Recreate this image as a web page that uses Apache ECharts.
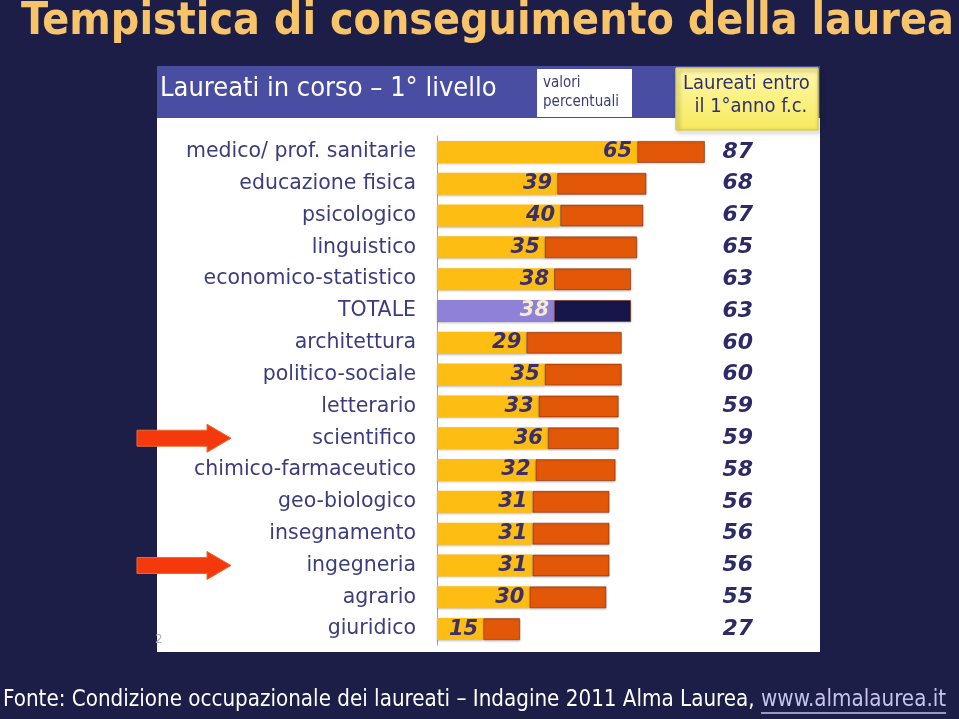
<!DOCTYPE html>
<html><head><meta charset="utf-8">
<script src="https://cdn.jsdelivr.net/npm/echarts@6/dist/echarts.min.js"></script>
<style>html,body{margin:0;padding:0;background:#1c1e47;}#c{width:959px;height:719px;}</style>
</head><body><div id="c"></div>
<script>
const categories = ['medico/ prof. sanitarie','educazione fisica','psicologico','linguistico','economico-statistico','TOTALE','architettura','politico-sociale','letterario','scientifico','chimico-farmaceutico','geo-biologico','insegnamento','ingegneria','agrario','giuridico'];
const inCorso = [65,39,40,35,38,38,29,35,33,36,32,31,31,31,30,15];
const entro1 = [87,68,67,65,63,63,60,60,59,59,58,56,56,56,55,27];
const arrowRows = ['scientifico','ingegneria'];
const totalRow = 'TOTALE';

const chart = echarts.init(document.getElementById('c'), null, {renderer:'canvas'});
const lblFont = 'DejaVu Sans';
const titleText = 'Tempistica di conseguimento della laurea';
const footerText = 'Fonte: Condizione occupazionale dei laureati \u2013 Indagine 2011 Alma Laurea, ';
const urlText = 'www.almalaurea.it';
const cv = document.createElement('canvas').getContext('2d');
const titleFam = '"DejaVu Sans Condensed", "DejaVu Sans"';
cv.font = 'bold 40px ' + titleFam;
const titleSize = Math.min(46, 40 * 933 / cv.measureText(titleText).width);
const footFont = '22.2px "DejaVu Sans Condensed", "DejaVu Sans"';
cv.font = footFont;
const footW = cv.measureText(footerText).width;
const urlW = cv.measureText(urlText).width;

const yellowItems = inCorso.map((v,i)=>({value:v, itemStyle:{color: categories[i]===totalRow ? '#8f80d8' : '#fdbd12'},
  label:{color: categories[i]===totalRow ? '#f6ead0' : '#3a2f6a'}}));
const orangeItems = entro1.map((v,i)=>({value:v-inCorso[i], itemStyle:{color: categories[i]===totalRow ? '#17164a' : '#e35808'}}));

chart.setOption({
  backgroundColor:'#1c1e47',
  animation:false,
  graphic:[
    {type:'text', left:21, top:0, style:{text:titleText, fill:'#f7c46a', font:'bold '+titleSize.toFixed(1)+'px '+titleFam}},
    {type:'rect', z:-10, shape:{x:157,y:66,width:663,height:586}, style:{fill:'#ffffff'}},
    {type:'rect', z:-9, shape:{x:157,y:66,width:663,height:52}, style:{fill:'#4a4ea2'}},
    {type:'text', z:-8, left:160, top:75, style:{text:'Laureati in corso \u2013 1\u00b0 livello', fill:'#ffffff', font:'27px "DejaVu Sans Condensed", "DejaVu Sans"'}},
    {type:'rect', z:-8, shape:{x:537,y:69,width:95,height:48}, style:{fill:'#ffffff'}},
    {type:'text', z:-7, left:543, top:74, style:{text:'valori\npercentuali', fill:'#3b3b78', font:'15px "DejaVu Sans Condensed", "DejaVu Sans"', lineHeight:19}},
    {type:'rect', z:-6, shape:{x:676,y:68,width:142,height:62}, style:{fill:new echarts.graphic.LinearGradient(0,0,0,1,[{offset:0,color:'#fff8a8'},{offset:1,color:'#f6ea5e'}]), stroke:'#d8cc60', lineWidth:1, shadowBlur:4, shadowColor:'rgba(0,0,0,0.4)', shadowOffsetX:2, shadowOffsetY:2}},
    {type:'text', z:-5, left:683, top:72, style:{text:'Laureati entro\n  il 1\u00b0anno f.c.', fill:'#2f2f6e', font:'20px "DejaVu Sans Condensed", "DejaVu Sans"', lineHeight:23}},
    {type:'text', left:155, top:634, style:{text:'2', fill:'#b0b0c0', font:'12px "DejaVu Sans"'}},
    {type:'text', left:3, top:689, style:{text:footerText, fill:'#ffffff', font:footFont}},
    {type:'text', left:3+footW, top:689, style:{text:urlText, fill:'#c6c3ee', font:footFont}},
    {type:'line', shape:{x1:3+footW, y1:713, x2:3+footW+urlW, y2:713}, style:{stroke:'#c6c3ee', lineWidth:1.5}}
  ],
  grid:{left:437, right:214, top:136, bottom:74, containLabel:false},
  xAxis:{type:'value', min:0, max:100, show:false},
  yAxis:[
    {type:'category', data:categories, inverse:true, axisTick:{show:false},
      axisLine:{show:true, lineStyle:{color:'#a0a0a8', width:1}},
      axisLabel:{color:'#3d3c7c', fontSize:20.5, fontFamily:lblFont, margin:21}},
    {type:'category', data:entro1.map(String), inverse:true, position:'right', axisTick:{show:false}, axisLine:{show:false},
      axisLabel:{color:'#2e2a68', fontSize:22, fontWeight:'bold', fontStyle:'italic', fontFamily:lblFont, align:'right', margin:8}}
  ],
  series:[
    {type:'bar', stack:'a', barWidth:22, data:yellowItems,
      itemStyle:{shadowColor:'rgba(0,0,0,0.25)', shadowBlur:2, shadowOffsetY:1},
      label:{show:true, position:'insideRight', fontSize:21, fontWeight:'bold', fontStyle:'italic', fontFamily:lblFont}},
    {type:'bar', stack:'a', barWidth:22, data:orangeItems,
      itemStyle:{borderColor:'rgba(120,30,0,0.5)', borderWidth:1, shadowColor:'rgba(0,0,0,0.25)', shadowBlur:2, shadowOffsetY:1}}
  ]
});

const arrows = arrowRows.map(name=>{
  const y = chart.convertToPixel({yAxisIndex:0}, name);
  return {type:'polygon', shape:{points:[[137,y-8],[207,y-8],[207,y-14],[231,y],[207,y+14],[207,y+8],[137,y+8]]},
    style:{fill:'#f43a0c', stroke:'#e86a30', lineWidth:1}};
});
chart.setOption({graphic: chart.getOption().graphic[0].elements.concat(arrows)});
</script></body></html>
